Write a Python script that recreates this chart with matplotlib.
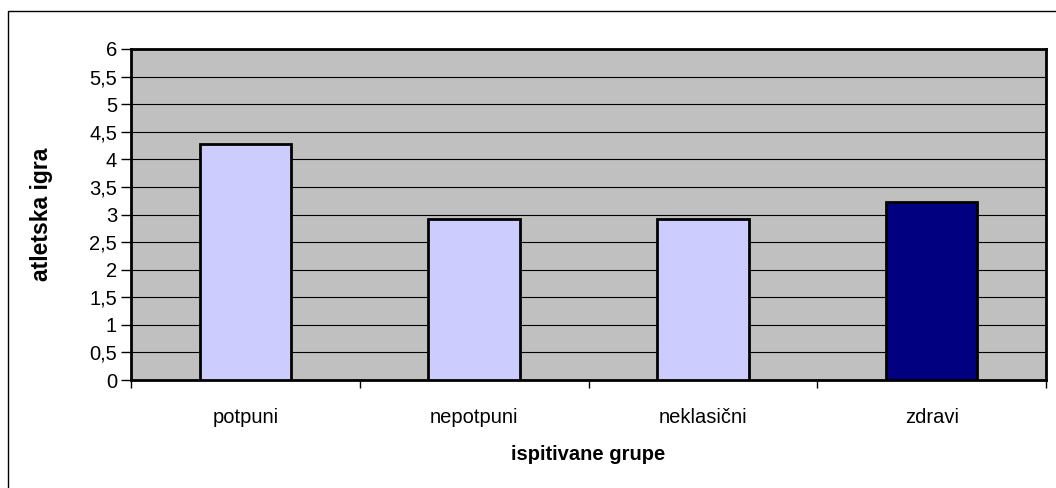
import matplotlib
matplotlib.use("Agg")
import matplotlib.pyplot as plt
import matplotlib.patches as patches
from matplotlib.ticker import FuncFormatter, MultipleLocator
import numpy as np

# data
groups = ["potpuni", "nepotpuni", "neklasični", "zdravi"]
values = [4.27, 2.91, 2.91, 3.23]
bar_colors = ["#ccccff", "#ccccff", "#ccccff", "#000080"]

plt.rcParams['font.family'] = ['Liberation Sans', 'DejaVu Sans']

W, H = 1056, 488
fig = plt.figure(figsize=(W / 100, H / 100), dpi=100)
fig.patch.set_facecolor("white")

# outer chart border (runs off the right and bottom of the image)
fig.patches.append(patches.Rectangle((8 / W, -0.1), 2.0, (H - 11) / H + 0.1,
                                     transform=fig.transFigure, fill=False,
                                     edgecolor="black", linewidth=1.0))

ax = fig.add_axes([131 / W, 1 - 380 / H, (1046 - 131) / W, (380 - 49) / H])
ax.set_facecolor("#c0c0c0")

x = np.arange(len(groups))
ax.bar(x, values, width=0.4, color=bar_colors, edgecolor="black",
       linewidth=2.0, zorder=3)

ax.set_xlim(-0.5, len(groups) - 0.5)
ax.set_ylim(0, 6)
ax.yaxis.set_major_locator(MultipleLocator(0.5))
ax.yaxis.set_major_formatter(FuncFormatter(lambda v, p: f"{v:g}".replace(".", ",")))
ax.grid(axis="y", color="black", linewidth=0.8, zorder=1)

# x ticks sit on category boundaries, labels at centres
ax.set_xticks(np.arange(len(groups) + 1) - 0.5)
ax.set_xticklabels([])
ax.set_xticks(x, minor=True)
ax.set_xticklabels(groups, minor=True)
ax.tick_params(axis="x", which="minor", length=0, pad=20, labelsize=14.5)
ax.tick_params(axis="x", which="major", length=6, width=1, direction="out")
ax.tick_params(axis="y", length=7, width=1, direction="out", labelsize=14.5, pad=3)

for s in ax.spines.values():
    s.set_linewidth(2.0)
    s.set_color("black")

ax.set_ylabel("atletska igra", fontsize=16.5, fontweight="bold", labelpad=26)
ax.set_xlabel("ispitivane grupe", fontsize=14.5, fontweight="bold", labelpad=13)

fig.savefig("out.png", dpi=100)
